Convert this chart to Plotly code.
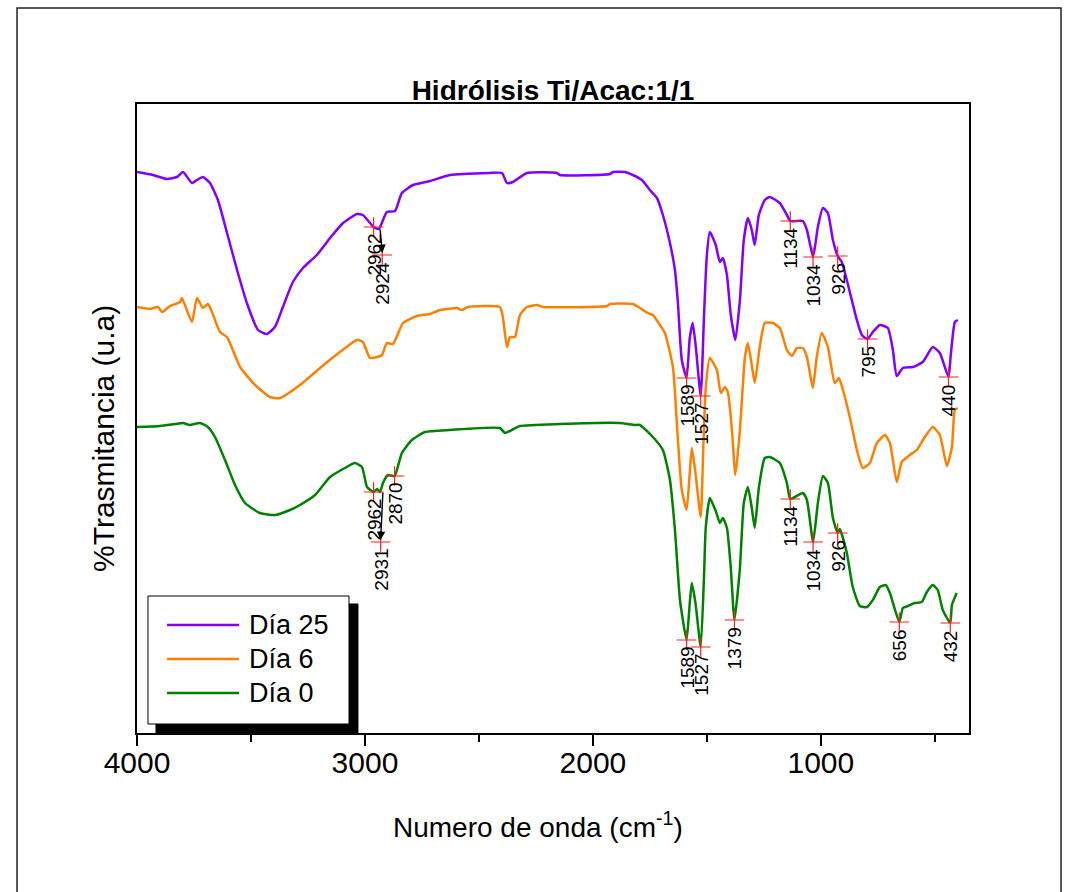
import plotly.graph_objects as go

# ---------------- data ----------------
wn_d25 = [4000, 3930, 3868, 3825, 3798, 3759, 3737, 3711, 3680, 3645, 3605, 3561, 3518, 3469, 3430, 3395,
          3360, 3316, 3272, 3211, 3153, 3096, 3035, 3009, 2962, 2939, 2904, 2868, 2838, 2789, 2715, 2627,
          2452, 2399, 2377, 2351, 2289, 2158, 2145, 1925, 1912, 1860, 1825, 1785, 1750, 1719, 1693, 1662,
          1640, 1627, 1610, 1589, 1575, 1562, 1548, 1527, 1512, 1500, 1487, 1461, 1443, 1430, 1412, 1395,
          1375, 1355, 1338, 1320, 1303, 1290, 1272, 1246, 1224, 1180, 1149, 1134, 1079, 1061, 1034, 1013,
          991, 969, 947, 926, 908, 886, 842, 820, 795, 772, 741, 706, 684, 667, 640, 596, 553, 509, 478,
          440, 430, 412, 399]
t_d25 = [561, 558, 554, 556, 561, 550, 553, 556, 550, 533, 500, 463, 430, 403, 399, 406,
         426, 451, 465, 478, 495, 510, 519, 518, 506, 504, 521, 522, 540, 548, 552, 558,
         560, 560, 550, 551, 560, 560, 558, 559, 561, 561, 558, 553, 543, 535, 518, 490,
         463, 430, 373, 355, 395, 410, 385, 337, 420, 478, 501, 488, 471, 475, 458, 418,
         393, 433, 493, 515, 503, 488, 518, 533, 536, 530, 518, 512, 512, 503, 476, 506,
         525, 520, 493, 477, 471, 453, 413, 398, 394, 401, 408, 405, 383, 357, 365, 366, 371, 386, 380,
         356, 378, 411, 413]

wn_d6 = [4000, 3943, 3908, 3890, 3855, 3811, 3803, 3759, 3737, 3711, 3689, 3671, 3636, 3605, 3548, 3482,
         3417, 3373, 3285, 3197, 3110, 3035, 3009, 2978, 2947, 2925, 2904, 2877, 2833, 2772, 2715, 2671,
         2596, 2575, 2548, 2408, 2395, 2377, 2364, 2342, 2320, 2289, 2246, 2219, 1939, 1925, 1825, 1794,
         1759, 1737, 1706, 1684, 1649, 1627, 1610, 1589, 1575, 1566, 1550, 1527, 1515, 1505, 1487, 1456,
         1439, 1421, 1408, 1390, 1375, 1355, 1333, 1320, 1303, 1290, 1268, 1246, 1211, 1180, 1149, 1127,
         1105, 1079, 1061, 1035, 1018, 996, 969, 939, 921, 903, 873, 842, 816, 785, 754, 719, 697, 667,
         645, 610, 579, 544, 509, 478, 447, 425, 412, 399]
t_d6 = [426, 424, 426, 421, 427, 431, 435, 411, 435, 425, 429, 421, 401, 396, 366, 348,
        336, 335, 348, 365, 381, 393, 391, 375, 376, 378, 390, 389, 410, 417, 419, 423,
        425, 423, 426, 426, 416, 386, 396, 396, 418, 426, 428, 426, 427, 429, 429, 425,
        420, 418, 408, 400, 366, 293, 243, 223, 260, 285, 260, 216, 290, 345, 375, 363,
        340, 346, 341, 303, 258, 303, 376, 390, 368, 350, 386, 410, 410, 405, 383, 377,
        385, 385, 376, 345, 376, 400, 386, 350, 355, 343, 316, 283, 265, 270, 290, 298, 290, 251,
        271, 278, 283, 296, 306, 298, 267, 286, 323, 325]

wn_d0 = [4000, 3899, 3833, 3798, 3768, 3724, 3689, 3658, 3614, 3570, 3526, 3461, 3395, 3329, 3285, 3219,
         3153, 3088, 3044, 3013, 2991, 2962, 2947, 2934, 2921, 2899, 2870, 2838, 2794, 2737, 2627, 2408,
         2386, 2364, 2320, 2145, 1882, 1816, 1794, 1737, 1693, 1662, 1640, 1618, 1589, 1575, 1566, 1550,
         1527, 1512, 1505, 1487, 1461, 1443, 1430, 1412, 1395, 1379, 1355, 1338, 1320, 1303, 1290, 1272,
         1246, 1224, 1180, 1149, 1134, 1079, 1061, 1034, 1013, 991, 969, 947, 926, 917, 886, 860, 829,
         798, 772, 741, 715, 697, 656, 640, 618, 588, 557, 535, 509, 487, 465, 432, 425, 404]
t_d0 = [306, 307, 309, 310, 308, 310, 306, 296, 273, 248, 230, 220, 218, 223, 228, 238,
        256, 265, 270, 266, 246, 241, 244, 241, 250, 258, 257, 280, 293, 301, 303, 305,
        300, 302, 307, 309, 310, 308, 308, 296, 283, 253, 203, 133, 93, 130, 150, 130,
        86, 160, 205, 235, 222, 210, 215, 205, 165, 113, 165, 230, 246, 225, 205, 245,
        275, 276, 270, 250, 234, 240, 233, 191, 230, 257, 250, 215, 200, 204, 180, 146, 127,
        126, 133, 146, 148, 140, 111, 125, 127, 130, 131, 141, 148, 143, 123, 110, 128, 140]

series_names = ["Día 25", "Día 6", "Día 0"]
series_colors = ["#8000FF", "#FF8000", "#008000"]

# peak labels (wavenumber, transmittance at the mark)
peaks_d25_wn = [2962, 2924, 1589, 1527, 1134, 1034, 926, 795, 440]
peaks_d25_t = [506, 478, 355, 337, 512, 476, 477, 394, 356]
peaks_d0_wn = [2962, 2931, 2870, 1589, 1527, 1379, 1134, 1034, 926, 656, 432]
peaks_d0_t = [241, 191, 257, 93, 86, 113, 234, 191, 200, 111, 110]

# arrows: (tail wn, tail T, head wn, head T)
arrows = [(2934, 505, 2924, 480), (2921, 242, 2931, 193)]

x_ticks = [4000, 3000, 2000, 1000]

FONT = "Liberation Sans, Arial, sans-serif"

fig = go.Figure()
for wn, t, name, col in zip([wn_d25, wn_d6, wn_d0], [t_d25, t_d6, t_d0], series_names, series_colors):
    fig.add_trace(go.Scatter(x=wn, y=t, mode="lines", name=name,
                             line=dict(color=col, width=2.5, shape="spline", smoothing=0.5),
                             showlegend=False, hoverinfo="skip"))

for pw, pt in [(peaks_d25_wn, peaks_d25_t), (peaks_d0_wn, peaks_d0_t)]:
    fig.add_trace(go.Scatter(x=pw, y=pt, mode="markers",
                             marker=dict(symbol="cross-thin", size=14,
                                         line=dict(color="#FF2020", width=1.2)),
                             showlegend=False, hoverinfo="skip"))
    for w, t in zip(pw, pt):
        fig.add_annotation(x=w, y=t, text=str(w), showarrow=False, textangle=-90,
                           xanchor="center", yanchor="top", yshift=-5,
                           font=dict(family=FONT, size=19, color="black"))

for tw, tt, hw, ht in arrows:
    fig.add_annotation(x=hw, y=ht, ax=tw, ay=tt, axref="x", ayref="y", xref="x", yref="y",
                       text="", showarrow=True, arrowhead=2, arrowsize=1.2, arrowwidth=1.4,
                       arrowcolor="black")

# ---- legend (Origin style box with drop shadow) ----
L = dict(xref="paper", yref="paper", layer="above")
fig.add_shape(type="rect", x0=0.0228, x1=0.2656, y0=0.0, y1=0.2051,
              fillcolor="black", line=dict(color="black", width=1), **L)
fig.add_shape(type="rect", x0=0.0132, x1=0.2548, y0=0.0143, y1=0.2178,
              fillcolor="white", line=dict(color="black", width=1), **L)
leg_y = [0.1717, 0.1176, 0.0636]
for name, col, yy in zip(series_names, series_colors, leg_y):
    fig.add_shape(type="line", x0=0.0361, x1=0.1226, y0=yy, y1=yy,
                  line=dict(color=col, width=2.5), **L)
    fig.add_annotation(xref="paper", yref="paper", x=0.1322, y=yy, text=name,
                       showarrow=False, xanchor="left", yanchor="middle",
                       font=dict(family=FONT, size=27, color="black"))

# axis titles (placed as in the reference page)
fig.add_annotation(xref="paper", yref="paper", x=(538 - 137) / 832, y=-(825 - 733) / 629,
                   text="Numero de onda (cm<sup>-1</sup>)", showarrow=False,
                   xanchor="center", yanchor="middle",
                   font=dict(family=FONT, size=28, color="black"))
fig.add_annotation(xref="paper", yref="paper", x=-(137 - 103) / 832, y=(733 - 439) / 629,
                   text="%Trasmitancia (u.a)", showarrow=False, textangle=-90,
                   xanchor="center", yanchor="middle",
                   font=dict(family=FONT, size=30, color="black"))

# outer page border
fig.add_shape(type="rect", xref="paper", yref="paper",
              x0=-0.1442, x1=1.1106, y0=-0.30, y1=1.1526,
              line=dict(color="#222222", width=1.5), fillcolor="rgba(0,0,0,0)", layer="below")

fig.update_layout(
    width=1072, height=892,
    margin=dict(l=137, r=103, t=104, b=159),
    paper_bgcolor="white", plot_bgcolor="white",
    font=dict(family=FONT, color="black"),
    title=dict(text="<b>Hidrólisis Ti/Acac:1/1</b>", x=0.5, xref="paper",
               y=1 - 90 / 892, yref="container", xanchor="center", yanchor="middle",
               font=dict(family=FONT, size=28, color="black")),
    showlegend=False,
)
fig.update_xaxes(range=[4000, 350], tickvals=x_ticks, ticktext=[str(v) for v in x_ticks],
                 ticks="outside", ticklen=11, tickwidth=2, tickcolor="black",
                 ticklabelstandoff=-9,
                 minor=dict(dtick=500, tick0=0, ticks="outside", ticklen=7, tickwidth=2, tickcolor="black"),
                 showline=True, linewidth=2, linecolor="black", mirror=True,
                 showgrid=False, zeroline=False,
                 tickfont=dict(family=FONT, size=30, color="black"))
fig.update_yaxes(range=[0, 629], showticklabels=False, ticks="",
                 showline=True, linewidth=2, linecolor="black", mirror=True,
                 showgrid=False, zeroline=False)

fig.write_html("out.html")
